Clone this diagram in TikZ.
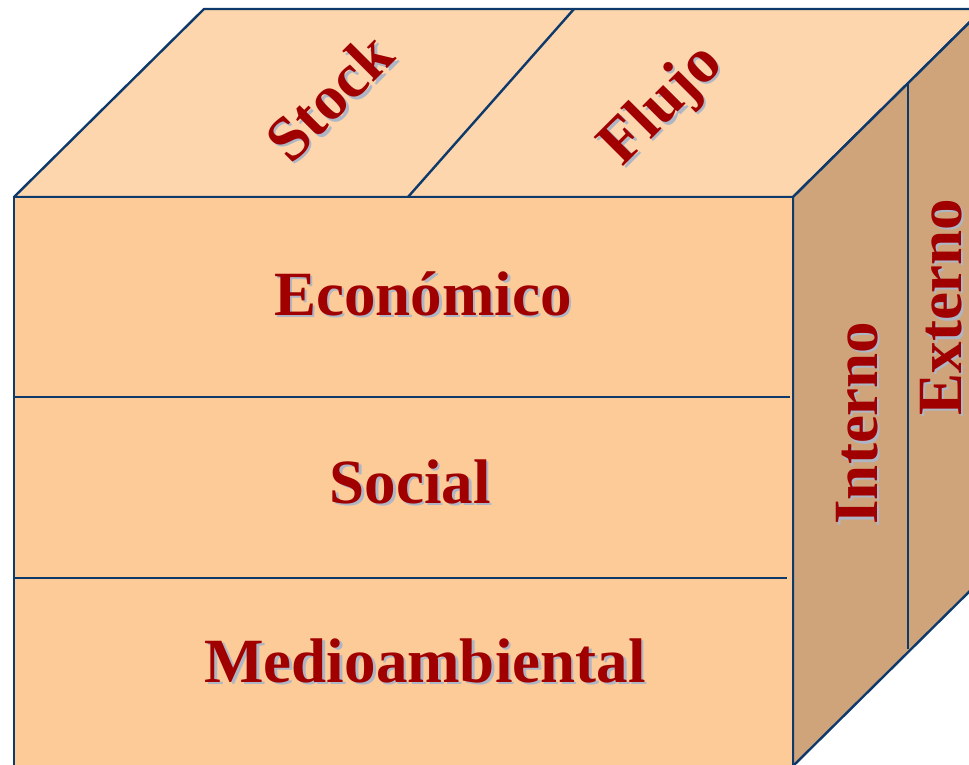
\documentclass[tikz,border=0pt]{standalone}
\usepackage{fontspec}
\setmainfont{Liberation Serif}
\usetikzlibrary{calc}
\definecolor{topface}{HTML}{FDD6AD}
\definecolor{frontface}{HTML}{FDCB98}
\definecolor{sideface}{HTML}{CFA47A}
\definecolor{edge}{HTML}{0D3A6B}
\definecolor{labelred}{HTML}{A00000}
\definecolor{labelshadow}{HTML}{AEB6C6}
\tikzset{
  face/.style={draw=edge, line width=2.4pt, line join=round},
  divider/.style={draw=edge, line width=2.4pt},
  lbl/.style={inner sep=0pt, font=\fontsize{63}{63}\selectfont\bfseries, text=labelred},
  lblsh/.style={lbl, text=labelshadow},
}
% a label with a soft grey drop shadow, offset right and down
\newcommand\shadowlabel[5]{% name, position, rotation, anchor, text
  \node[lblsh, rotate=#3, anchor=#4] (#1-sh) at ($(#2)+(2.5pt,-2.5pt)$) {#5};
  \node[lbl, rotate=#3, anchor=#4] (#1) at (#2) {#5};
}
\begin{document}
\begin{tikzpicture}[x=1pt, y=-1pt]
\useasboundingbox (0,0) rectangle (969,764);
\clip (0,0) rectangle (969,764);
% cube corners
\coordinate (ftl) at (14,197);
\coordinate (ftr) at (793,197);
\coordinate (fbr) at (793,766);
\coordinate (fbl) at (14,766);
\coordinate (btl) at (204,9);
\coordinate (btr) at (983,9);
\coordinate (bbr) at (983,578);
% faces
\path[face, fill=topface] (ftl) -- (btl) -- (btr) -- (ftr) -- cycle;
\path[face, fill=sideface] (ftr) -- (btr) -- (bbr) -- (fbr) -- cycle;
\path[face, fill=frontface] (ftl) -- (ftr) -- (fbr) -- (fbl) -- cycle;
% dividers
\coordinate (t1) at (408,197);
\coordinate (t2) at (574,9);
\draw[divider] (t1) -- (t2);
\coordinate (r1) at (908,82);
\coordinate (r2) at (908,649);
\draw[divider] (r1) -- (r2);
\coordinate (m1a) at (14,397);
\coordinate (m1b) at (790,397);
\draw[divider] (m1a) -- (m1b);
\coordinate (m2a) at (14,578);
\coordinate (m2b) at (787,578);
\draw[divider] (m2a) -- (m2b);
% labels
\coordinate (pEcon) at (423,315);
\coordinate (pSoc) at (410,503);
\coordinate (pMed) at (425,682);
\coordinate (pStock) at (329,97);
\coordinate (pFlujo) at (663,106);
\coordinate (pInt) at (857,423);
\coordinate (pExt) at (941,307);
\shadowlabel{econ}{pEcon}{0}{base}{Económico}
\shadowlabel{soc}{pSoc}{0}{base}{Social}
\shadowlabel{med}{pMed}{0}{base}{Medioambiental}
\shadowlabel{stock}{pStock}{45}{center}{Stock}
\shadowlabel{flujo}{pFlujo}{45}{center}{Flujo}
\shadowlabel{int}{pInt}{90}{center}{Interno}
\shadowlabel{ext}{pExt}{90}{center}{Externo}
\end{tikzpicture}
\end{document}
